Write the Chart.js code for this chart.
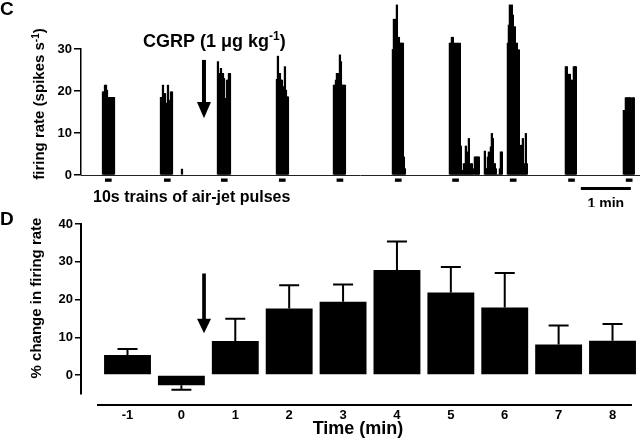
<!DOCTYPE html>
<html><head><meta charset="utf-8">
<script src="https://cdn.jsdelivr.net/npm/chart.js@4.4.1/dist/chart.umd.min.js"></script>
<style>
html,body{margin:0;padding:0;background:#fff;width:640px;height:445px;overflow:hidden}
#wrapC{position:absolute;left:0;top:0;width:640px;height:207px}
#wrapD{position:absolute;left:0;top:205px;width:640px;height:240px}
canvas{display:block}
</style></head><body>
<div id="wrapC"><canvas id="chartC" width="640" height="207"></canvas></div>
<div id="wrapD"><canvas id="chartD" width="640" height="240"></canvas></div>
<script>
const FONT = "'Liberation Sans', Arial, Helvetica, sans-serif";

// ---------- Panel C : firing-rate histogram (bin = 1.2 s) ----------
const BIN_S = 1.2;
const rates1  = [19.8, 19.8, 21.4, 21.4, 20.2, 16, 18.5, 18.5, 16, 18.5, 18.5, 18.5];
const rates2  = [18.5, 18.5, 21.4, 19.4, 19.4, 17.1, 17.1, 21.4, 17.8, 17.8, 19.8, 19.8];
const spikeA  = [1.4];
const rates3  = [27, 24.2, 24.2, 25.4, 24.2, 24.2, 23, 18.2, 18.2, 22.6, 22.6, 24.2, 24.2];
const rates4  = [22.8, 28.3, 24.2, 24.2, 22.6, 22.6, 21, 21, 25.8, 20.2, 18.6, 18.6];
const rates5  = [21.4, 21.4, 22.6, 24.2, 24.2, 22.6, 28.6, 27, 21.4, 21.4, 21.4, 21.4];
const rates6  = [29.9, 37.1, 34.1, 37.1, 40.5, 32.8, 32.8, 31.4, 31.4, 31.4, 31.4, 4.3, 1.5];
const rates7  = [31.4, 31.4, 32.8, 32.8, 31.4, 31.4, 29, 31.4, 31.4, 29, 31.4,
                 6.9, 1.1, 1.1, 2.7, 2.7, 6.9, 2.7, 5.5, 8.7, 1.5, 2.7, 2.7, 1.5, 0, 4.3, 4.3, 4.3, 4.3, 4.3];
const cluster = [5.7, 1.5, 1.5, 4.3, 5.5, 4.3, 6.7, 9.9, 8.7, 2.7, 2.7, 1.5, 0, 0, 0, 1.5, 5.5, 5.5];
const rates8  = [31.4, 35.7, 40.5, 35.7, 40.5, 38.1, 35.3, 35.3, 31.4, 31.4, 29.8, 29.8,
                 2.7, 7.1, 2.7, 8.7, 1.5, 2.7, 9.9, 2.7];
const rates9  = [25.8, 25.8, 21, 24, 24, 22.6, 22.6, 18.6, 25.8, 25.8, 25.8];
const rates10 = [15.4, 15.4, 18.4, 18.4, 18.4, 18.4, 18.4, 18.4, 15.4, 18.4, 18.4];
const segStartS = [26.4, 96.0, 121.2, 164.4, 235.2, 303.6, 374.4, 442.8, 484.8, 512.4, 582.0, 651.6];
const segRates  = [rates1, rates2, spikeA, rates3, rates4, rates5, rates6, rates7, cluster, rates8, rates9, rates10];
const stimOnsetS = [28.8, 99.6, 168, 237.6, 306.8, 376.8, 445.6, 514.8, 584.8, 654];
const STIM_DUR_S = 8;
const scaleBarStartS = 600, scaleBarLenS = 60;
const cgrpTimeS = 147.6;
const cYTicks = [0, 10, 20, 30];

// ---------- Panel D : % change in firing rate ----------
const timeMin   = [-1, 0, 1, 2, 3, 4, 5, 6, 7, 8];
const pctChange = [5.3, -2.7, 9.0, 17.6, 19.4, 27.8, 21.9, 17.9, 8.1, 9.1];
const pctSem    = [1.6, 1.2, 5.9, 6.2, 4.6, 7.6, 6.7, 9.1, 5.0, 4.4];
const cgrpTimeMin = 0.42;

const cPoints = [];
segStartS.forEach((t0, k) => segRates[k].forEach((r, i) => cPoints.push({x: +(t0 + i * BIN_S).toFixed(2), y: r})));

function drawArrow(ctx, x, yTop, yHead, yTip, shaftW, headHalf) {
  ctx.fillStyle = '#000';
  ctx.fillRect(x - shaftW / 2, yTop, shaftW, yHead - yTop + 1);
  ctx.beginPath();
  ctx.moveTo(x - headHalf, yHead); ctx.lineTo(x + headHalf, yHead); ctx.lineTo(x, yTip); ctx.closePath();
  ctx.fill();
}

const panelC = {
  id: 'panelC',
  afterDatasetsDraw(chart) {
    const {ctx, chartArea, scales: {x, y}} = chart;
    ctx.save();
    const y0 = y.getPixelForValue(0);
    ctx.strokeStyle = '#222'; ctx.lineWidth = 1;
    ctx.beginPath(); ctx.moveTo(chartArea.left, y0 + 0.5); ctx.lineTo(chartArea.right, y0 + 0.5); ctx.stroke();
    ctx.fillStyle = '#000';
    stimOnsetS.forEach(t => {
      const a = x.getPixelForValue(t), b = x.getPixelForValue(t + STIM_DUR_S);
      ctx.fillRect(a, y0 + 3.5, b - a, 3.3);
    });
    const sa = x.getPixelForValue(scaleBarStartS), sb = x.getPixelForValue(scaleBarStartS + scaleBarLenS);
    ctx.fillRect(sa, y0 + 12, sb - sa, 3);
    ctx.font = `bold 14px ${FONT}`; ctx.textAlign = 'center'; ctx.textBaseline = 'alphabetic';
    ctx.fillText('1 min', (sa + sb) / 2, 208);
    ctx.textAlign = 'left';
    ctx.font = `bold 16px ${FONT}`;
    ctx.fillText('10s trains of air-jet pulses', 93, 202);
    // arrow
    drawArrow(ctx, x.getPixelForValue(cgrpTimeS), y.getPixelForValue(27.4), y.getPixelForValue(17.4), y.getPixelForValue(13.5), 4, 7);
    // CGRP label
    let tx = 143;
    ctx.font = `bold 18px ${FONT}`;
    const t1 = 'CGRP (1 \u03bcg kg';
    ctx.fillText(t1, tx, 46.5); tx += ctx.measureText(t1).width;
    ctx.font = `bold 12px ${FONT}`;
    ctx.fillText('-1', tx, 40); tx += ctx.measureText('-1').width;
    ctx.font = `bold 18px ${FONT}`;
    ctx.fillText(')', tx, 46.5);
    // panel letter
    ctx.font = `bold 19px ${FONT}`;
    ctx.fillText('C', 0, 15);
    // y title
    ctx.translate(44, 104); ctx.rotate(-Math.PI / 2);
    const m1 = 'firing rate (spikes s', m2 = '-1', m3 = ')';
    ctx.font = `bold 15px ${FONT}`; const w1 = ctx.measureText(m1).width, w3 = ctx.measureText(m3).width;
    ctx.font = `bold 10px ${FONT}`; const w2 = ctx.measureText(m2).width;
    let sx = -(w1 + w2 + w3) / 2;
    ctx.font = `bold 15px ${FONT}`; ctx.fillText(m1, sx, 0); sx += w1;
    ctx.font = `bold 10px ${FONT}`; ctx.fillText(m2, sx, -5); sx += w2;
    ctx.font = `bold 15px ${FONT}`; ctx.fillText(m3, sx, 0);
    ctx.restore();
  }
};

new Chart(document.getElementById('chartC'), {
  type: 'bar',
  data: { datasets: [{ data: cPoints, backgroundColor: '#000', borderWidth: 0, barThickness: 1.6, clip: false }] },
  options: {
    responsive: false, animation: false, devicePixelRatio: 1,
    layout: { padding: { top: 49, bottom: 32, left: 0, right: 0 } },
    plugins: { legend: { display: false }, tooltip: { enabled: false } },
    scales: {
      x: { type: 'linear', min: 0, max: 671, offset: false, display: false },
      y: {
        min: 0, max: 30,
        afterFit: s => { s.width = 81; },
        afterBuildTicks: s => { s.ticks = cYTicks.map(v => ({value: v})); },
        ticks: { color: '#000', font: { family: FONT, weight: 'bold', size: 13 }, padding: 2 },
        grid: { drawOnChartArea: false, drawTicks: true, tickLength: 7, color: '#000', lineWidth: 1.5 },
        border: { display: true, color: '#000', width: 1.5 }
      }
    }
  },
  plugins: [panelC]
});

const panelD = {
  id: 'panelD',
  afterDatasetsDraw(chart) {
    const {ctx, chartArea, scales: {x, y}} = chart;
    ctx.save();
    ctx.strokeStyle = '#000'; ctx.lineWidth = 2;
    timeMin.forEach((t, i) => {
      const cx = x.getPixelForValue(t);
      const sign = pctChange[i] < 0 ? -1 : 1;
      const ya = y.getPixelForValue(pctChange[i]);
      const yb = y.getPixelForValue(pctChange[i] + sign * pctSem[i]);
      ctx.beginPath(); ctx.moveTo(cx, ya); ctx.lineTo(cx, yb);
      ctx.moveTo(cx - 10, yb); ctx.lineTo(cx + 10, yb); ctx.stroke();
    });
    // detached x axis line
    ctx.lineWidth = 2;
    const ly = chartArea.bottom + 11;
    ctx.beginPath(); ctx.moveTo(x.getPixelForValue(-1.566), ly); ctx.lineTo(x.getPixelForValue(8.36), ly); ctx.stroke();
    drawArrow(ctx, x.getPixelForValue(cgrpTimeMin), y.getPixelForValue(26.9), y.getPixelForValue(14.9), y.getPixelForValue(11.1), 3.7, 7);
    ctx.fillStyle = '#000';
    ctx.font = `bold 18px ${FONT}`; ctx.textAlign = 'center'; ctx.textBaseline = 'alphabetic';
    ctx.fillText('Time (min)', 358, 229);
    ctx.textAlign = 'left';
    ctx.font = `bold 19px ${FONT}`;
    ctx.fillText('D', 0, 20);
    ctx.translate(41, 93); ctx.rotate(-Math.PI / 2);
    ctx.textAlign = 'center';
    ctx.font = `bold 15px ${FONT}`;
    ctx.fillText('% change in firing rate', 0, 0);
    ctx.restore();
  }
};

new Chart(document.getElementById('chartD'), {
  type: 'bar',
  data: { datasets: [{ data: timeMin.map((t, i) => ({x: t, y: pctChange[i]})), backgroundColor: '#000', borderWidth: 0,
    barPercentage: 0.87, categoryPercentage: 1 }] },
  options: {
    responsive: false, animation: false, devicePixelRatio: 1,
    layout: { padding: { top: 19, bottom: 0, left: 0, right: 0 } },
    plugins: { legend: { display: false }, tooltip: { enabled: false } },
    scales: {
      x: {
        type: 'linear', min: -1.863, max: 8.51, offset: false,
        afterFit: s => { s.height = 51; },
        ticks: { stepSize: 1, includeBounds: false, color: '#000', font: { family: FONT, weight: 'bold', size: 13 }, padding: 14 },
        grid: { display: false, drawTicks: false },
        border: { display: false }
      },
      y: {
        min: -5, max: 40,
        afterFit: s => { s.width = 81; },
        ticks: { stepSize: 10, includeBounds: false, color: '#000', font: { family: FONT, weight: 'bold', size: 13 }, padding: 2 },
        grid: { drawOnChartArea: false, drawTicks: true, tickLength: 6, color: '#000', lineWidth: 1.5 },
        border: { display: true, color: '#000', width: 2 }
      }
    }
  },
  plugins: [panelD]
});
</script>
</body></html>
